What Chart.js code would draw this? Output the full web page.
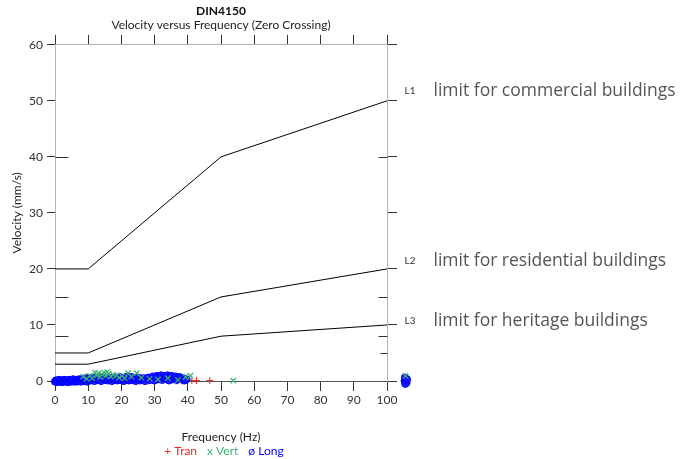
<!DOCTYPE html>
<html>
<head>
<meta charset="utf-8">
<script src="https://cdn.jsdelivr.net/npm/chart.js@4.4.0/dist/chart.umd.min.js"></script>
<style>
  body { margin: 0; background: #fff; }
  #wrap { width: 693px; height: 459px; }
</style>
</head>
<body>
<div id="wrap"><canvas id="din4150Chart" width="693" height="459"></canvas></div>
<script>
// Limit curves (DIN4150)
const limitFreq = [0, 10, 50, 100];
const limitL1 = [20, 20, 40, 50];
const limitL2 = [5, 5, 15, 20];
const limitL3 = [3, 3, 8, 10];
const limitNames = ['L1', 'L2', 'L3'];
const limitTexts = ['limit for commercial buildings', 'limit for residential buildings', 'limit for heritage buildings'];

// Axis ticks
const freqTicks = [0, 10, 20, 30, 40, 50, 60, 70, 80, 90, 100];
const velTicks = [0, 10, 20, 30, 40, 50, 60];
const leftMarks = [40, 15, 8];
const rightMarks = [40, 15, 8, 5];

const tranFreq = [2.0, 6.0, 11.0, 15.0, 19.6, 22.5, 26.0, 28.2, 30.4, 34.0, 36.5, 38.3, 41.2, 42.6, 46.6, 105.5];
const tranVel = [0.1, 0.0, 0.2, 0.1, 0.1, 0.2, 0.1, 0.0, 0.2, 0.1, 0.0, 0.0, 0.1, 0.1, 0.1, 0.0];

const vertFreq = [8.5, 9.5, 10.5, 11.2, 12.0, 12.6, 13.0, 13.6, 14.2, 14.8,
    15.3, 15.7, 16.2, 16.8, 17.5, 18.5, 19.3, 20.2, 21.0, 22.0,
    23.0, 24.6, 26.0, 28.5, 31.0, 34.0, 37.0, 39.3, 40.8, 53.7, 105.6];
const vertVel = [0.8, 0.4, 0.9, 0.5, 1.5, 1.0, 1.4, 0.7, 1.2, 1.5,
    0.9, 1.6, 1.3, 0.8, 1.1, 1.0, 0.6, 0.9, 0.5, 1.4,
    0.8, 1.4, 0.6, 0.4, 0.3, 0.5, 0.2, 0.7, 0.95, 0.05, 0.9];

const longFreq = [0.0, 0.3, 0.6, 0.9, 1.2, 1.5, 1.8, 2.1, 2.4, 2.7,
    3.0, 3.3, 3.6, 3.9, 4.2, 4.5, 4.8, 5.1, 5.4, 5.7,
    6.0, 6.3, 6.6, 6.9, 7.2, 7.5, 7.8, 8.1, 8.4, 8.7,
    9.0, 9.3, 9.6, 9.9, 10.3, 10.7, 11.1, 11.5, 11.9, 12.3,
    12.7, 13.1, 13.5, 13.9, 14.3, 14.7, 15.1, 15.5, 15.9, 16.3,
    16.7, 17.1, 17.5, 17.9, 18.3, 18.7, 19.1, 19.5, 19.9, 20.3,
    20.7, 21.1, 21.5, 21.9, 22.3, 22.7, 23.1, 23.5, 23.9, 24.3,
    24.7, 25.1, 25.5, 26.1, 26.6, 27.1, 27.6, 28.1, 28.6, 29.1,
    29.5, 29.9, 30.3, 30.7, 31.1, 31.5, 31.9, 32.3, 32.7, 33.1,
    33.5, 33.9, 34.3, 34.7, 35.1, 35.5, 35.9, 36.3, 36.7, 37.1,
    37.5, 38.0, 38.5, 39.0, 39.6,
    105.3, 105.6, 105.9, 105.4, 105.8, 105.5, 106.0];
const longVel = [-0.1, 0.1, -0.2, 0.0, 0.2, -0.1, 0.1, -0.2, 0.0, 0.2,
    -0.1, 0.1, 0.0, -0.2, 0.2, 0.0, -0.1, 0.1, 0.3, -0.1,
    0.1, 0.2, -0.1, 0.0, 0.3, 0.1, -0.1, 0.2, 0.4, 0.0,
    0.2, 0.5, -0.1, 0.3, 0.5, 0.1, 0.4, 0.6, 0.0, 0.3,
    0.5, 0.2, 0.6, 0.0, 0.4, 0.7, 0.2, 0.5, 0.1, 0.6,
    0.3, 0.0, 0.5, 0.2, 0.6, 0.1, 0.4, 0.7, 0.2, 0.5,
    0.0, 0.6, 0.3, 0.8, 0.1, 0.5, 0.7, 0.2, 0.5, 0.0,
    0.4, 0.6, 0.1, 0.3, 0.5, 0.0, 0.4, 0.6, 0.2, 0.5,
    0.8, 0.1, 0.6, 0.9, 0.3, 0.7, 1.0, 0.2, 0.6, 0.9,
    0.4, 1.0, 0.1, 0.7, 0.9, 0.3, 0.6, 0.8, 0.2, 0.5,
    0.7, 0.3, 0.5, 0.1, 0.3,
    0.0, 0.4, -0.3, 0.6, 0.1, -0.5, 0.3];

const toPoints = (xs, ys) => xs.map((x, i) => ({ x: x, y: ys[i] }));

const TICK = '#333333';
const AXIS = '#b4b4b4';
const RED = 'rgb(255,30,30)';
const GREEN = 'rgb(60,179,113)';
const BLUE = '#0000ff';

Chart.defaults.font.family = 'Lato';
Chart.defaults.font.size = 12;
Chart.defaults.color = '#333';

// let points above 100 Hz / below 0 be drawn next to the axes
const outsidePoints = {
    id: 'outsidePoints',
    beforeDatasetsDraw(chart) {
        const a = chart.chartArea;
        chart._realArea = a;
        chart.chartArea = { left: a.left - 6, top: a.top, right: a.right + 40, bottom: a.bottom + 12, width: a.width + 46, height: a.height + 12 };
    },
    afterDatasetsDraw(chart) {
        chart.chartArea = chart._realArea;
    }
};

// extra inner tick marks and the limit captions
const extras = {
    id: 'extras',
    afterDraw(chart) {
        const ctx = chart.ctx;
        const xs = chart.scales.x;
        const ys = chart.scales.y;
        const xl = Math.round(xs.getPixelForValue(0)) + 0.5;
        const xr = Math.round(xs.getPixelForValue(100)) + 0.5;
        ctx.save();
        ctx.strokeStyle = TICK;
        ctx.lineWidth = 1;
        ctx.beginPath();
        leftMarks.forEach(v => {
            const py = Math.round(ys.getPixelForValue(v)) + 0.5;
            ctx.moveTo(xl, py); ctx.lineTo(xl + 13, py);
        });
        rightMarks.forEach(v => {
            const py = Math.round(ys.getPixelForValue(v)) + 0.5;
            ctx.moveTo(xr, py); ctx.lineTo(xr - (v === 5 ? 7 : 9), py);
        });
        ctx.stroke();

        const ends = [limitL1[3], limitL2[3], limitL3[3]];
        const lift = [10, 8, 4];
        ctx.textBaseline = 'middle';
        ctx.textAlign = 'left';
        ends.forEach((v, i) => {
            const py = ys.getPixelForValue(v) - lift[i];
            ctx.font = '10px Lato';
            ctx.fillStyle = '#333';
            ctx.fillText(limitNames[i], xr + 17, py);
            ctx.font = '17.5px "Open Sans"';
            ctx.fillStyle = '#555';
            ctx.fillText(limitTexts[i], xr + 46, py);
        });
        ctx.restore();
    }
};

const lineSet = (label, ys) => ({
    label: label,
    data: toPoints(limitFreq, ys),
    showLine: true,
    borderColor: '#000',
    borderWidth: 1,
    pointRadius: 0,
    fill: false
});

const ctx = document.getElementById('din4150Chart').getContext('2d');
const din4150Chart = new Chart(ctx, {
    type: 'scatter',
    data: {
        datasets: [
            lineSet('L1', limitL1),
            lineSet('L2', limitL2),
            lineSet('L3', limitL3),
            {
                label: 'Vert',
                data: toPoints(vertFreq, vertVel),
                pointStyle: 'crossRot',
                pointRadius: 3.8,
                borderWidth: 1.2,
                borderColor: GREEN,
                clip: false
            },
            {
                label: 'Long',
                data: toPoints(longFreq, longVel),
                pointStyle: 'circle',
                pointRadius: 3.6,
                borderWidth: 1,
                borderColor: BLUE,
                backgroundColor: 'rgba(20,20,255,0.9)',
                clip: false
            },
            {
                label: 'Tran',
                data: toPoints(tranFreq, tranVel),
                pointStyle: 'cross',
                pointRadius: 3.5,
                borderWidth: 1,
                borderColor: RED,
                clip: false
            }
        ]
    },
    options: {
        responsive: false,
        animation: false,
        layout: { padding: { left: 0, right: 296, top: 0, bottom: -8 } },
        scales: {
            x: {
                type: 'linear',
                position: 'bottom',
                min: 0,
                max: 100,
                afterBuildTicks: s => { s.ticks = freqTicks.map(v => ({ value: v })); },
                afterFit: s => { s.height = 60; },
                ticks: { padding: 2, color: '#333' },
                grid: { drawOnChartArea: false, color: TICK, tickLength: 10 },
                border: { color: '#555' },
                title: { display: true, text: 'Frequency (Hz)', color: '#222', padding: { top: 0, bottom: -3 } }
            },
            x2: {
                type: 'linear',
                position: 'top',
                min: 0,
                max: 100,
                afterBuildTicks: s => { s.ticks = freqTicks.map(v => ({ value: v })); },
                afterFit: s => { s.height = 12; },
                ticks: { display: false },
                grid: { drawOnChartArea: false, color: TICK, tickLength: 10 },
                border: { color: AXIS }
            },
            y: {
                type: 'linear',
                position: 'left',
                min: 0,
                max: 60,
                afterBuildTicks: s => { s.ticks = velTicks.map(v => ({ value: v })); },
                afterFit: s => { s.width = 55; },
                ticks: { padding: 4, color: '#333' },
                grid: { drawOnChartArea: false, color: TICK, tickLength: 8 },
                border: { color: AXIS },
                title: { display: true, text: 'Velocity (mm/s)', color: '#222', padding: { top: 10, bottom: 4 } }
            },
            y2: {
                type: 'linear',
                position: 'right',
                min: 0,
                max: 60,
                afterBuildTicks: s => { s.ticks = velTicks.map(v => ({ value: v })); },
                afterFit: s => { s.width = 10; },
                ticks: { display: false },
                grid: { drawOnChartArea: false, color: TICK, tickLength: 10 },
                border: { color: AXIS }
            }
        },
        plugins: {
            tooltip: { enabled: false },
            title: {
                display: true,
                text: 'DIN4150',
                fullSize: false,
                color: '#111',
                font: { size: 12, weight: 'bold' },
                padding: { top: 4, bottom: 0 }
            },
            subtitle: {
                display: true,
                text: 'Velocity versus Frequency (Zero Crossing)',
                fullSize: false,
                color: '#222',
                font: { size: 12 },
                padding: { top: 0, bottom: 0 }
            },
            legend: {
                display: true,
                position: 'bottom',
                fullSize: false,
                labels: {
                    boxWidth: 0,
                    boxHeight: 0,
                    padding: 4,
                    font: { size: 12 },
                    generateLabels: () => [
                        { text: '+ Tran', fontColor: RED },
                        { text: 'x Vert', fontColor: GREEN },
                        { text: 'ø Long', fontColor: BLUE }
                    ].map((item, i) => Object.assign(item, {
                        fillStyle: 'rgba(0,0,0,0)',
                        strokeStyle: 'rgba(0,0,0,0)',
                        lineWidth: 0,
                        hidden: false,
                        datasetIndex: 5 - i
                    }))
                }
            }
        }
    },
    plugins: [outsidePoints, extras]
});
</script>
</body>
</html>
